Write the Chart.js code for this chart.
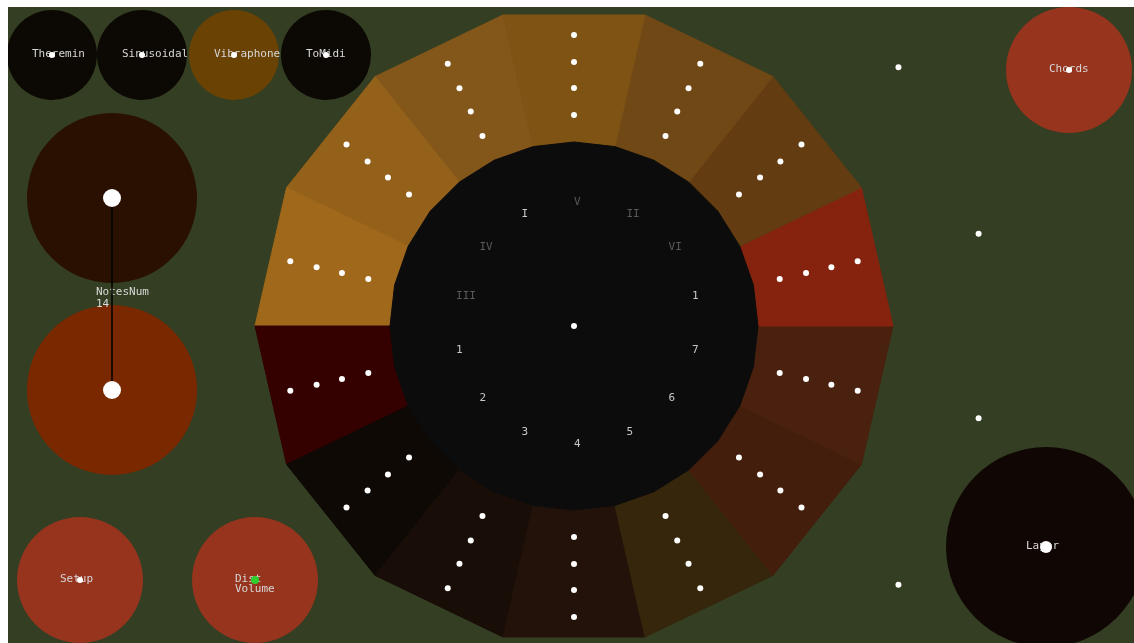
<!DOCTYPE html>
<html>
<head>
<meta charset="utf-8">
<script src="https://cdn.jsdelivr.net/npm/chart.js@4.4.1/dist/chart.umd.min.js"></script>
<style>
    html, body { margin: 0; padding: 0; width: 1134px; height: 643px; overflow: hidden; background: #fff; }
    #app { position: absolute; left: 8px; top: 7px; width: 1126px; height: 636px; background: #343e22; }
    #chart_buttons { position: absolute; left: 8px; top: 7px; }
    #chart_wheel { position: absolute; left: 124px; top: -124px; }
</style>
</head>
<body>
<div id="app"></div>
<canvas id="chart_buttons" width="1126" height="636"></canvas>
<canvas id="chart_wheel" width="900" height="900"></canvas>
<script>
// wheel: 14 notes, clockwise starting at the top
const notesNum = 14;
const segmentColors = ['#7f5314', '#704816', '#633c12', '#86230e', '#49210e', '#441e0c', '#36260c', '#23120a', '#180d07', '#0e0905', '#340000', '#a0681a', '#94611a', '#83561a'];
const outerCorner = 319;
const outerEdge = 311;
const innerRadius = 184;
const noteRadii = [291, 264, 238, 211];
const guideRadius = 415;
const guideSegments = [2, 3, 4, 5];
const degreeLabels = ['V', 'II', 'VI', '1', '7', '6', '5', '4', '3', '2', '1', 'III', 'IV', 'I'];
const degreeActive = [false, false, false, true, true, true, true, true, true, true, true, false, false, true];
const labelRadius = 121;

// buttons
const buttonLabels = ['Theremin', 'Sinusoidal', 'Vibraphone', 'ToMidi', 'Chords', 'Setup', 'Dist\nVolume', 'Layer'];
const buttonX = [52, 142, 234, 326, 1069, 80, 255, 1046];
const buttonY = [55, 55, 55, 55, 70, 580, 580, 547];
const buttonSize = [45, 45, 45, 45, 63, 63, 63, 100];
const buttonColors = ['#0c0804', '#0c0804', '#6a4204', '#0c0804', '#96341e', '#96341e', '#96341e', '#100604'];

// NotesNum slider
const sliderX = [112, 112];
const sliderY = [198, 390];
const sliderColors = ['#2a1000', '#7a2800'];
const sliderName = 'NotesNum';

const spokes = notesNum * 2;
const empty = () => new Array(spokes).fill(null);

let segmentSets = segmentColors.map((c, i) => {
    let d = new Array(spokes).fill(0);
    d[(2 * i - 1 + spokes) % spokes] = outerCorner;
    d[2 * i] = outerEdge;
    d[2 * i + 1] = outerCorner;
    return { data: d, backgroundColor: c, borderColor: c, borderWidth: 1, fill: 'origin', pointRadius: 0, order: 10 };
});

let noteSets = noteRadii.map(r => {
    let d = empty();
    for (let i = 0; i < notesNum; i++) d[2 * i] = r;
    return { data: d, showLine: false, fill: false, borderWidth: 0, pointRadius: 3, pointBorderWidth: 0, pointBackgroundColor: '#fff', order: 2 };
});

let guide = empty();
guideSegments.forEach(s => guide[2 * s] = guideRadius);
let centre = empty();
centre[0] = 0;

const degreeText = {
    id: 'degreeText',
    afterDatasetsDraw(chart) {
        const ctx = chart.ctx;
        const r = chart.scales.r;
        ctx.save();
        ctx.font = '11px "DejaVu Sans Mono"';
        ctx.textAlign = 'left';
        ctx.textBaseline = 'middle';
        degreeLabels.forEach((t, i) => {
            const p = r.getPointPositionForValue(2 * i, labelRadius);
            ctx.fillStyle = degreeActive[i] ? '#c8c8c8' : '#5a5a5a';
            ctx.fillText(t, p.x, p.y - 3);
        });
        ctx.restore();
    }
};

let ctx_wheel = document.getElementById('chart_wheel');
let chart_wheel = new Chart(ctx_wheel, {
    type: 'radar',
    data: {
        labels: new Array(spokes).fill(''),
        datasets: [
            ...segmentSets,
            { data: new Array(spokes).fill(innerRadius), backgroundColor: '#0c0c0c', borderColor: '#0c0c0c', borderWidth: 1, fill: 'origin', pointRadius: 0, order: 5 },
            ...noteSets,
            { data: guide, showLine: false, fill: false, borderWidth: 0, pointRadius: 3, pointBorderWidth: 0, pointBackgroundColor: '#fff', order: 2 },
            { data: centre, showLine: false, fill: false, borderWidth: 0, pointRadius: 3, pointBorderWidth: 0, pointBackgroundColor: '#fff', order: 1 }
        ]
    },
    options: {
        responsive: false,
        animation: false,
        events: [],
        layout: { padding: 0, autoPadding: false },
        elements: { line: { tension: 0 } },
        scales: {
            r: {
                min: 0,
                max: 450,
                startAngle: 0,
                ticks: { display: false },
                grid: { display: false },
                angleLines: { display: false },
                pointLabels: { display: false }
            }
        },
        plugins: { legend: { display: false }, tooltip: { enabled: false } }
    },
    plugins: [degreeText]
});

const buttonText = {
    id: 'buttonText',
    afterDatasetDraw(chart, args) {
        if (args.index !== 0) return;
        const ctx = chart.ctx;
        const x = chart.scales.x, y = chart.scales.y;
        ctx.save();
        ctx.font = '11px "DejaVu Sans Mono"';
        ctx.fillStyle = '#d8d8d8';
        ctx.textAlign = 'left';
        ctx.textBaseline = 'alphabetic';
        buttonLabels.forEach((t, i) => {
            t.split('\n').forEach((line, k) => {
                ctx.fillText(line, x.getPixelForValue(buttonX[i]) - 20, y.getPixelForValue(buttonY[i]) + 2 + k * 10);
            });
        });
        const mid = (sliderY[0] + sliderY[1]) / 2;
        ctx.fillText(sliderName, x.getPixelForValue(sliderX[0]) - 16, y.getPixelForValue(mid) + 1);
        ctx.fillText(String(notesNum), x.getPixelForValue(sliderX[0]) - 16, y.getPixelForValue(mid) + 13);
        ctx.restore();
    }
};

const pts = (xs, ys) => xs.map((v, i) => ({ x: v, y: ys[i] }));

let ctx_buttons = document.getElementById('chart_buttons');
let chart_buttons = new Chart(ctx_buttons, {
    type: 'scatter',
    data: {
        datasets: [
            {
                data: pts(buttonX.concat(sliderX), buttonY.concat(sliderY)),
                pointRadius: buttonSize.concat([85, 85]),
                pointBackgroundColor: buttonColors.concat(sliderColors),
                pointBorderWidth: 0,
                clip: false,
                order: 3
            },
            {
                data: pts(sliderX, sliderY),
                showLine: true,
                borderColor: '#000',
                borderWidth: 1.5,
                pointRadius: 0,
                order: 2
            },
            {
                data: pts(buttonX.concat(sliderX), buttonY.concat(sliderY)),
                pointRadius: [3, 3, 3, 3, 3, 3, 4, 6, 9, 9],
                pointBackgroundColor: ['#fff', '#fff', '#fff', '#fff', '#fff', '#fff', '#2ed02e', '#fff', '#fff', '#fff'],
                pointBorderWidth: 0,
                order: 1
            }
        ]
    },
    options: {
        responsive: false,
        animation: false,
        events: [],
        layout: { padding: 0, autoPadding: false },
        scales: {
            x: { type: 'linear', min: 8, max: 1134, display: false },
            y: { type: 'linear', min: 7, max: 643, reverse: true, display: false }
        },
        plugins: { legend: { display: false }, tooltip: { enabled: false } }
    },
    plugins: [buttonText]
});
</script>
</body>
</html>
